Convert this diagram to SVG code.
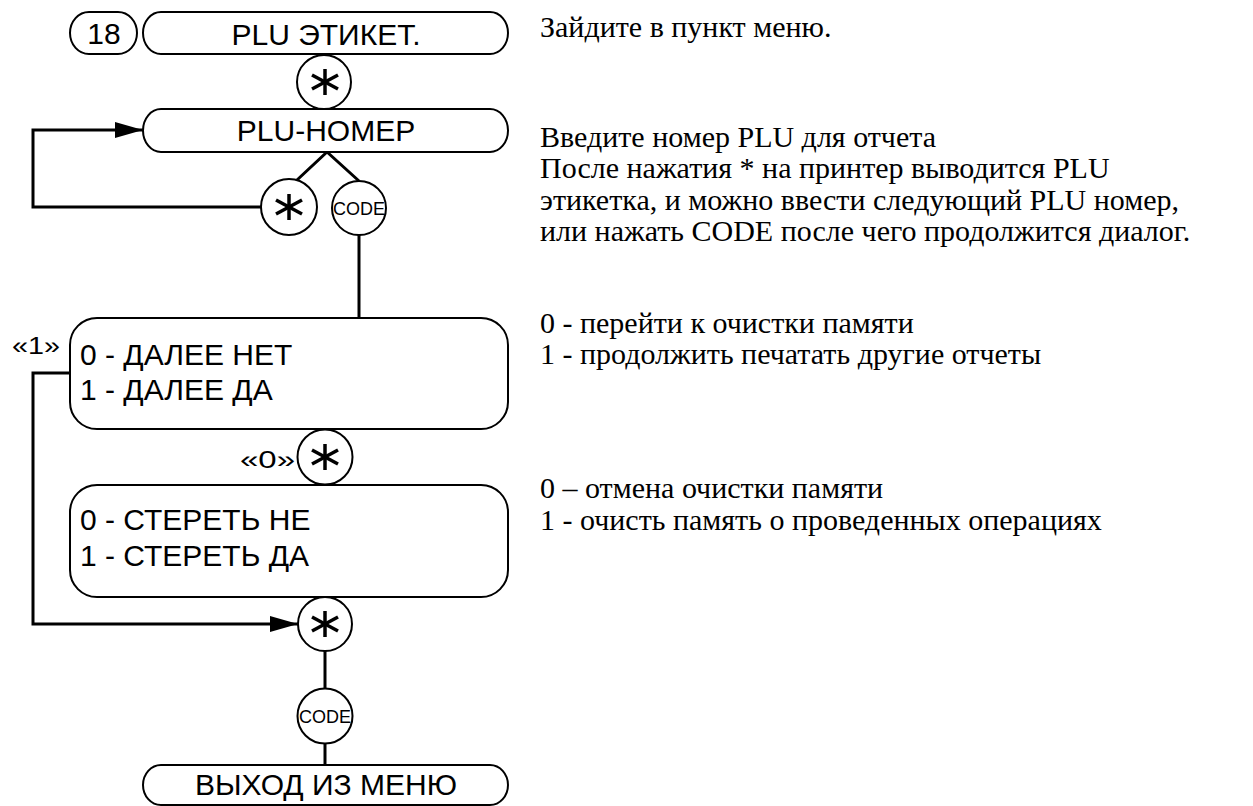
<svg xmlns="http://www.w3.org/2000/svg" width="1253" height="806" viewBox="0 0 1253 806">
<style>
.box{fill:#fff;stroke:#000;stroke-width:2}
.key{fill:#fff;stroke:#000;stroke-width:2}
.conn{fill:none;stroke:#000;stroke-width:3}
.t{font-family:"Liberation Sans",Arial,sans-serif;font-size:30px;fill:#000}
.c{text-anchor:middle}
.code{font-family:"Liberation Sans",Arial,sans-serif;font-size:19px;fill:#000;text-anchor:middle}
.q{font-family:"Liberation Sans",Arial,sans-serif;font-size:24px;fill:#000}
.d{font-family:"Liberation Serif","Times New Roman",serif;font-size:30px;fill:#000}
.st{stroke:#000;stroke-width:3.5;stroke-linecap:butt}
</style>
<defs>
<g id="star" class="st">
<line x1="0" y1="-13" x2="0" y2="13"/>
<line x1="-13" y1="-7" x2="13" y2="7"/>
<line x1="-13" y1="7" x2="13" y2="-7"/>
</g>
<marker id="arr" markerUnits="userSpaceOnUse" markerWidth="28" markerHeight="16" refX="28" refY="8" orient="auto">
<path d="M0,0 L28,8 L0,16 Z" fill="#000"/>
</marker>
</defs>

<g id="connectors">
<path class="conn" d="M261,207 H33 V130 H143" marker-end="url(#arr)"/>
<path class="conn" d="M297,180 L327,152 L359,181"/>
<path class="conn" d="M359,235 V318"/>
<path class="conn" d="M70,373 H33 V624 H298" marker-end="url(#arr)"/>
<path class="conn" d="M325,651 V689"/>
<path class="conn" d="M325,744 V765"/>
</g>

<g id="n18">
<rect class="box" x="70" y="12" width="67" height="42" rx="19" ry="21"/>
<text class="t c" x="104" y="44">18</text>
</g>
<g id="plu-etiket">
<rect class="box" x="143" y="12" width="365" height="42" rx="18" ry="21"/>
<text class="t c" x="326" y="45">PLU ЭТИКЕТ.</text>
</g>
<g id="star1">
<circle class="key" cx="324" cy="82" r="27"/>
<use href="#star" x="325" y="82"/>
</g>
<g id="plu-nomer">
<rect class="box" x="143" y="109" width="365" height="43" rx="18" ry="21.5"/>
<text class="t c" x="326" y="141">PLU-НОМЕР</text>
</g>
<g id="star2">
<circle class="key" cx="289" cy="207" r="28"/>
<use href="#star" x="289" y="207"/>
</g>
<g id="code1">
<circle class="key" cx="359" cy="208" r="27"/>
<text class="code" x="359" y="215" textLength="52" lengthAdjust="spacingAndGlyphs">CODE</text>
</g>
<g id="dalee">
<rect class="box" x="70" y="318" width="438" height="111" rx="27" ry="27"/>
<text class="t" x="80" y="365">0 - ДАЛЕЕ НЕТ</text>
<text class="t" x="80" y="400">1 - ДАЛЕЕ ДА</text>
</g>
<g id="label1">
<text class="q" x="12" y="354" textLength="48" lengthAdjust="spacingAndGlyphs">«1»</text>
</g>
<g id="star3">
<circle class="key" cx="325" cy="457" r="27.5"/>
<use href="#star" x="325" y="457"/>
</g>
<g id="label0">
<text class="q" x="240" y="468" textLength="55" lengthAdjust="spacingAndGlyphs">«0»</text>
</g>
<g id="steret">
<rect class="box" x="70" y="485" width="438" height="112" rx="27" ry="27"/>
<text class="t" x="80" y="530">0 - СТЕРЕТЬ НЕ</text>
<text class="t" x="80" y="566">1 - СТЕРЕТЬ ДА</text>
</g>
<g id="star4">
<circle class="key" cx="325" cy="624" r="27"/>
<use href="#star" x="325" y="624"/>
</g>
<g id="code2">
<circle class="key" cx="325" cy="716" r="27.5"/>
<text class="code" x="325" y="723" textLength="52" lengthAdjust="spacingAndGlyphs">CODE</text>
</g>
<g id="exit">
<rect class="box" x="143" y="765" width="365" height="40" rx="18" ry="20"/>
<text class="t c" x="326" y="795">ВЫХОД ИЗ МЕНЮ</text>
</g>

<g id="descriptions">
<text class="d" x="540" y="37">Зайдите в пункт меню.</text>
<text class="d" x="540" y="147">Введите номер PLU для отчета</text>
<text class="d" x="540" y="178">После нажатия * на принтер выводится PLU</text>
<text class="d" x="540" y="210">этикетка, и можно ввести следующий PLU номер,</text>
<text class="d" x="540" y="241">или нажать CODE после чего продолжится диалог.</text>
<text class="d" x="540" y="333">0 - перейти к очистки памяти</text>
<text class="d" x="540" y="364">1 - продолжить печатать другие отчеты</text>
<text class="d" x="540" y="498">0 – отмена очистки памяти</text>
<text class="d" x="540" y="530">1 - очисть память о проведенных операциях</text>
</g>
</svg>
